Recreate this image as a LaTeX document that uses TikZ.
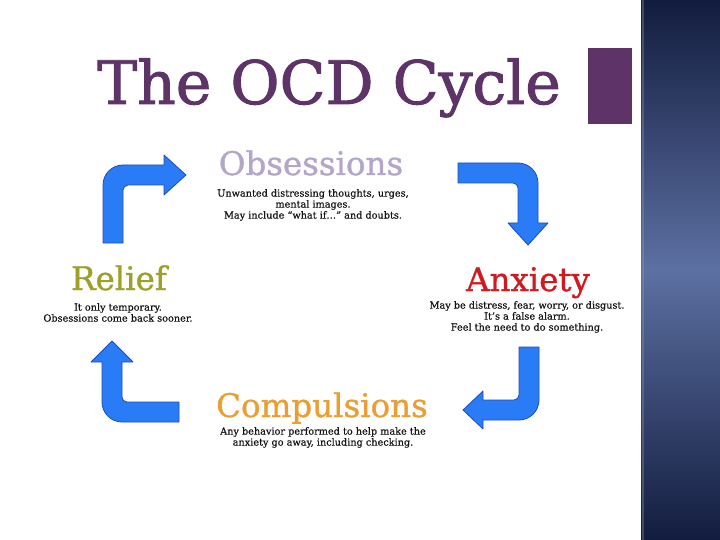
\documentclass[tikz,border=0pt]{standalone}
\usepackage{fontspec}
\setmainfont{DejaVu Serif}
\newfontfamily\titlefont{DejaVu Serif}[FakeBold=1.6]
\newfontfamily\headfont{DejaVu Serif}[FakeBold=1.1]
\newfontfamily\descfont{DejaVu Serif}[FakeBold=0.5]
\definecolor{titlepurple}{RGB}{94,52,104}
\definecolor{obscol}{RGB}{180,166,201}
\definecolor{anxcol}{RGB}{208,26,32}
\definecolor{relcol}{RGB}{158,160,42}
\definecolor{compcol}{RGB}{232,160,52}
\definecolor{desccol}{RGB}{20,20,20}
\definecolor{arrowfill}{RGB}{42,124,246}
\definecolor{arrowline}{RGB}{30,76,190}
\definecolor{panelDark}{RGB}{18,28,62}
\definecolor{panelMid}{RGB}{92,112,162}
\tikzset{
  heading/.style={inner sep=0pt, anchor=base, font=\headfont\fontsize{32.5}{34}\selectfont},
  desc/.style={inner sep=0pt, anchor=north, align=center, text=desccol, font=\descfont\fontsize{9.7}{11}\selectfont},
  bentarrow/.style={fill=arrowfill, draw=arrowline, line width=0.8pt, line join=round}
}
\begin{document}
\begin{tikzpicture}[x=1pt,y=-1pt]
\useasboundingbox (0,0) rectangle (720,540);
\fill[white] (0,0) rectangle (720,540);
% right panel
\shade[top color=panelDark, bottom color=panelDark, middle color=panelMid] (641,0) rectangle (720,540);
\fill[panelMid!70!white, opacity=0.35] (642,0) rectangle (644,540);
% purple block
\fill[titlepurple] (588,48) rectangle (632,124);
% title
\node[inner sep=0pt, anchor=base west, text=titlepurple, font=\titlefont\fontsize{60}{62}\selectfont] (title) at (97,104) {The OCD Cycle};
% headings
\node[heading, text=obscol] (obs) at (311,175) {Obsessions};
\node[desc] (obsd) at (313,189) {Unwanted distressing thoughts, urges,\\ mental images.\\ May include “what if…” and doubts.};
\node[heading, text=anxcol] (anx) at (528,291) {Anxiety};
\node[desc] (anxd) at (527,301) {May be distress, fear, worry, or disgust.\\ It’s a false alarm.\\ Feel the need to do something.};
\node[heading, text=relcol] (rel) at (119,290) {Relief};
\node[desc] (reld) at (118,303) {It only temporary.\\ Obsessions come back sooner.};
\node[heading, text=compcol] (comp) at (322,417) {Compulsions};
\node[desc] (compd) at (323,427) {Any behavior performed to help make the\\ anxiety go away, including checking.};
% arrows
\draw[bentarrow] (103,243) -- (103,185) .. controls (103,174) and (112,165) .. (123,165) -- (164,165) -- (164,155) -- (186,175) -- (164,195) -- (164,185) -- (128,185) .. controls (125.2,185) and (123,187.8) .. (123,190) -- (123,243) -- cycle;
\draw[bentarrow] (458,163) -- (518,163) .. controls (529,163) and (538,172) .. (538,183) -- (538,223) -- (548,223) -- (528,245) -- (508,223) -- (518,223) -- (518,188) .. controls (518,185.2) and (515.8,183) .. (513,183) -- (458,183) -- cycle;
\draw[bentarrow] (539,347) -- (539,400) .. controls (539,411) and (530,420) .. (519,420) -- (483,420) -- (483,429) -- (463,410) -- (483,391) -- (483,400) -- (514,400) .. controls (516.8,400) and (519,397.8) .. (519,395) -- (519,347) -- cycle;
\draw[bentarrow] (179,422) -- (122,422) .. controls (111,422) and (102,413) .. (102,402) -- (102,362) -- (91,362) -- (112,341) -- (133,362) -- (122,362) -- (122,397) .. controls (122,399.8) and (124.2,402) .. (127,402) -- (179,402) -- cycle;
\end{tikzpicture}
\end{document}
